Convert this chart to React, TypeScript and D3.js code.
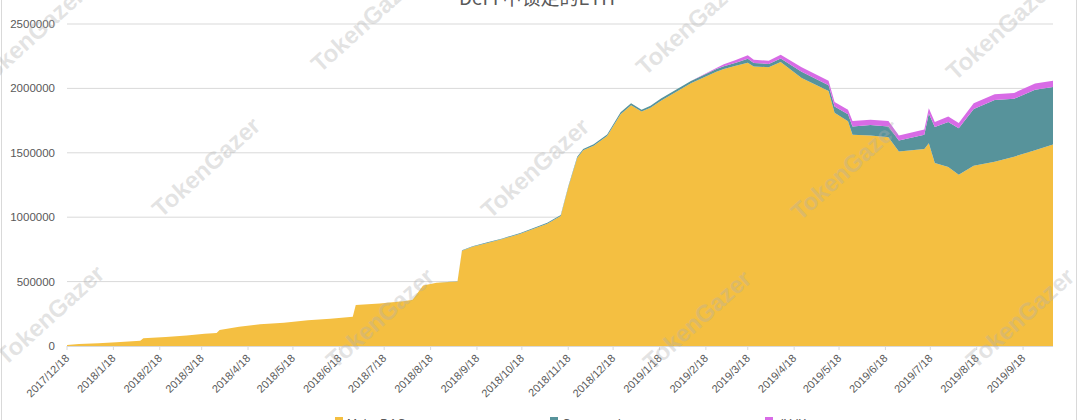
import React from "react";
import * as d3 from "d3";

const title = "DeFi 中锁定的ETH";
const seriesNames = ["MakerDAO", "Compound", "dYdX"];

const dates = [
  "2017-12-18","2017-12-26","2018-01-08","2018-01-20","2018-02-05","2018-02-07","2018-02-22","2018-03-08","2018-03-20","2018-03-28",
  "2018-03-30","2018-04-12","2018-04-26","2018-05-12","2018-05-28","2018-06-12","2018-06-27","2018-06-29","2018-07-15","2018-08-01",
  "2018-08-06","2018-08-13","2018-08-22","2018-09-05","2018-09-08","2018-09-15","2018-09-25","2018-10-05","2018-10-17","2018-11-04",
  "2018-11-13","2018-11-18","2018-11-24","2018-11-28","2018-12-05","2018-12-14","2018-12-23","2018-12-30","2019-01-06","2019-01-12",
  "2019-01-19","2019-02-08","2019-02-25","2019-03-02","2019-03-10","2019-03-18","2019-03-22","2019-04-01","2019-04-09","2019-04-23",
  "2019-05-11","2019-05-15","2019-05-24","2019-05-27","2019-06-08","2019-06-20","2019-06-27","2019-07-14","2019-07-17","2019-07-21",
  "2019-07-30","2019-08-06","2019-08-16","2019-08-30","2019-09-12","2019-09-26","2019-10-08"
];

// thousands of ETH
const makerEth = [
  8,15,22,30,40,60,70,82,95,100,
  125,150,168,180,200,212,228,318,330,350,
  360,470,492,500,740,770,800,830,872,950,
  1010,1230,1460,1520,1555,1630,1800,1870,1820,1850,
  1905,2040,2130,2150,2175,2200,2170,2165,2205,2080,
  1980,1810,1745,1640,1635,1620,1510,1530,1575,1420,
  1390,1330,1400,1430,1470,1520,1565
];
const compoundEth = [
  0,0,0,0,0,0,0,0,0,0,
  0,0,0,0,0,0,0,0,0,0,
  0,0,0,3,3,4,5,5,6,7,
  8,8,10,10,12,12,14,14,15,15,
  16,18,20,22,25,30,28,25,28,50,
  45,50,55,65,80,85,85,110,230,280,
  350,360,440,480,450,470,445
];
const otherEth = [
  0,0,0,0,0,0,0,0,0,0,
  0,0,0,0,0,0,0,0,0,0,
  0,0,0,0,0,0,0,0,0,0,
  0,0,0,0,0,0,0,0,0,0,
  0,0,8,15,20,28,25,25,28,35,
  35,35,35,42,42,42,40,40,40,40,
  42,42,45,45,45,48,50
];

const yTicks = [0, 500000, 1000000, 1500000, 2000000, 2500000];
const xTickLabels = [
  "2017/12/18","2018/1/18","2018/2/18","2018/3/18","2018/4/18","2018/5/18","2018/6/18","2018/7/18",
  "2018/8/18","2018/9/18","2018/10/18","2018/11/18","2018/12/18","2019/1/18","2019/2/18","2019/3/18",
  "2019/4/18","2019/5/18","2019/6/18","2019/7/18","2019/8/18","2019/9/18"
];

const colors = ["#F4BF41", "#57939B", "#D86BE6"];

const W = 1080, H = 420;
const X0 = 67, X1 = 1053, Y0 = 346, Y1 = 24;

export default function App() {
  const parse = d3.timeParse("%Y-%m-%d");
  const parseTick = d3.timeParse("%Y/%m/%d");
  const rows = dates.map((d, i) => ({
    date: parse(d) as Date,
    a: makerEth[i] * 1000,
    b: compoundEth[i] * 1000,
    c: otherEth[i] * 1000,
  }));
  const x = d3.scaleTime()
    .domain([parse(dates[0]) as Date, parse(dates[dates.length - 1]) as Date])
    .range([X0, X1]);
  const y = d3.scaleLinear().domain([0, 2500000]).range([Y0, Y1]);
  const stack = d3.stack<any>().keys(["a", "b", "c"]);
  const layers = stack(rows);
  const area = d3.area<any>()
    .x((d) => x(d.data.date))
    .y0((d) => y(d[0]))
    .y1((d) => y(d[1]))
    .curve(d3.curveLinear);

  const font = "'Liberation Sans', Arial, sans-serif";
  const wm = [
    [30, 37], [365, 22], [690, 25], [1000, 30],
    [206, 167], [535, 168], [845, 170],
    [50, 315], [380, 318], [697, 320], [1020, 318],
  ];

  return (
    <svg width={W} height={H} style={{ position: "fixed", left: 0, top: 0, background: "#fff" }}>
      <rect x={1.5} y={-10} width={1075} height={440} fill="#fff" stroke="#d9d9d9" />
      <text x={537} y={5} textAnchor="middle" fontSize={19} fill="#595959" fontFamily="'Noto Sans CJK SC', sans-serif">{title}</text>
      {yTicks.map((t) => (
        <g key={t}>
          {t > 0 && <line x1={X0} x2={X1} y1={y(t)} y2={y(t)} stroke="#d9d9d9" strokeWidth={1} />}
          <text x={55} y={y(t)} dy="0.35em" textAnchor="end" fontSize={11.5} fill="#595959" fontFamily={font}>{t}</text>
        </g>
      ))}
      {layers.map((layer, i) => (
        <path key={i} d={area(layer) as string} fill={colors[i]} />
      ))}
      <line x1={X0} x2={X1} y1={Y0 + 0.5} y2={Y0 + 0.5} stroke="#d9d9d9" />
      {xTickLabels.map((lbl) => {
        const tx = x(parseTick(lbl) as Date);
        return (
          <g key={lbl}>
            <line x1={tx} x2={tx} y1={Y0} y2={Y0 + 4} stroke="#d9d9d9" />
            <text transform={`translate(${tx + 3},${Y0 + 13}) rotate(-45)`} textAnchor="end" fontSize={11} fill="#595959" fontFamily={font}>{lbl}</text>
          </g>
        );
      })}
      {seriesNames.map((n, i) => (
        <g key={n} transform={`translate(${335 + i * 215},417)`}>
          <rect x={0} y={0} width={8} height={8} fill={colors[i]} />
          <text x={12} y={11} fontSize={12} fill="#595959" fontFamily={font}>{n}</text>
        </g>
      ))}
      {wm.map(([cx, cy], i) => (
        <text key={i} transform={`translate(${cx},${cy}) rotate(-42)`} textAnchor="middle" dy="0.35em"
          fontSize={24} fontWeight="bold" fill="#b0b0b0" fillOpacity={0.35} fontFamily={font}>TokenGazer</text>
      ))}
    </svg>
  );
}
